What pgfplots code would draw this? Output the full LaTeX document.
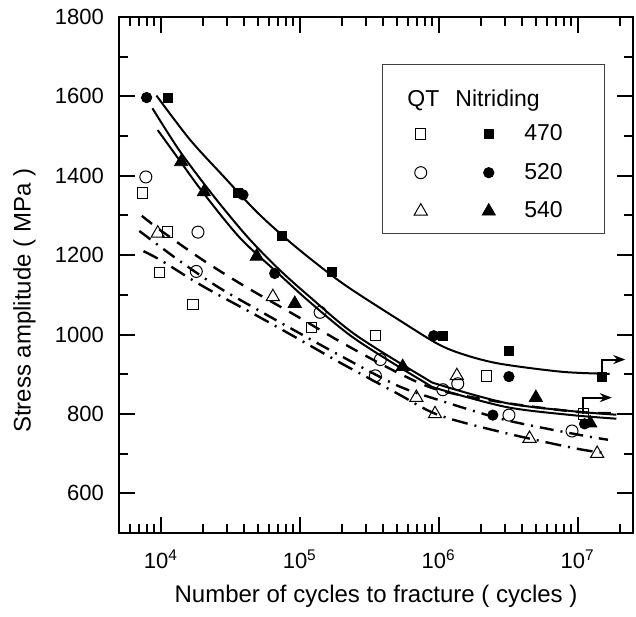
\documentclass[border=0pt]{standalone}
\usepackage{fontspec}
\setmainfont{Liberation Sans}
\usepackage{pgfplots}
\pgfplotsset{compat=1.18}
\usetikzlibrary{arrows.meta}

\begin{document}
\begin{tikzpicture}
\begin{axis}[
    scale only axis,
    width=257pt, height=258pt,
    xmode=log,
    xmin=5000, xmax=2.5e7,
    ymin=500, ymax=1800,
    axis line style={line width=1.2pt},
    every tick/.style={black, line width=1pt},
    tick align=inside,
    major tick length=8pt,
    minor tick length=4.5pt,
    xtick={1e4,1e5,1e6,1e7},
    xticklabels={10\textsuperscript{4},10\textsuperscript{5},10\textsuperscript{6},10\textsuperscript{7}},
    minor xtick={5000,6000,7000,8000,9000,2e4,3e4,4e4,5e4,6e4,7e4,8e4,9e4,2e5,3e5,4e5,5e5,6e5,7e5,8e5,9e5,2e6,3e6,4e6,5e6,6e6,7e6,8e6,9e6,2e7},
    ytick={600,800,...,1800},
    minor ytick={500,700,...,1700},
    /pgf/number format/assume math mode=true,
    /pgf/number format/1000 sep={},
    tick label style={font=\fontsize{11}{13}\selectfont},
    xticklabel style={yshift=-5pt},
    yticklabel style={xshift=-4pt},
    xlabel={Number of cycles to fracture ( cycles )},
    ylabel={Stress amplitude ( MPa )},
    label style={font=\fontsize{12}{14}\selectfont},
    xlabel style={at={(axis description cs:0.5,0)}, anchor=north, inner sep=0pt, yshift=-26pt},
    ylabel style={at={(axis description cs:0,0.45)}, anchor=south, inner sep=0pt, yshift=41.5pt},
    legend style={at={(rel axis cs:0.5735,0.80)}, anchor=north west, draw=none, fill=none,
        inner sep=0pt, row sep=5.75pt, font=\fontsize{11.5}{13}\selectfont},
    legend cell align=left,
    /tikz/every odd column/.append style={column sep=12.5pt},
]
% QT curves
\addplot[forget plot, smooth, line width=1.2pt, dash pattern=on 6.5pt off 4.5pt] coordinates {
(7.3e3,1299) (1e4,1262) (2e4,1188) (4e4,1122) (1e5,1042) (2e5,980) (5e5,905) (1e6,860) (3e6,828) (1e7,805) (1.9e7,802)};
\addplot[forget plot, smooth, line width=1.2pt, dash pattern=on 7pt off 3.5pt on 1pt off 3.5pt] coordinates {
(7e3,1261) (1.37e4,1185) (2.6e4,1119) (5e4,1062) (1e5,1003) (2e5,945) (5e5,872) (1e6,835) (3e6,785) (1e7,748) (1.65e7,735)};
\addplot[forget plot, smooth, line width=1.2pt, dash pattern=on 8pt off 3.5pt on 1pt off 3.5pt] coordinates {
(7.5e3,1210) (1e4,1187) (2e4,1122) (5e4,1046) (1e5,987) (2e5,927) (5e5,852) (1e6,797) (3e6,752) (1e7,712) (1.65e7,701)};
% nitriding curves
\addplot[forget plot, smooth, line width=1pt] coordinates {
(9.3e3,1602) (1.62e4,1491) (2.8e4,1400) (4.9e4,1309) (8.5e4,1233) (1.48e5,1165) (2.3e5,1116) (5e5,1040) (1e6,975) (1.6e6,947) (2.8e6,926) (7.8e6,906) (1.7e7,901)};
\addplot[forget plot, smooth, line width=1pt] coordinates {
(8.7e3,1570) (1.37e4,1462) (2.37e4,1351) (4.2e4,1246) (7e4,1166) (1.17e5,1096) (2.5e5,1000) (7.7e5,893) (1.02e6,873) (3.1e6,827) (9.1e6,807) (1.9e7,798)};
\addplot[forget plot, smooth, line width=1pt] coordinates {
(9.5e3,1515) (1.37e4,1438) (2e4,1359) (3.7e4,1244) (7e4,1154) (1.17e5,1083) (2.5e5,989) (7.7e5,882) (1.02e6,862) (3.1e6,817) (9.1e6,797) (1.9e7,788)};
% run-out arrows
\addplot[forget plot, line width=1pt, -{Stealth[length=6pt,width=4.5pt]}] coordinates {(1.5e7,894) (1.5e7,937) (2.2e7,937)};
\addplot[forget plot, line width=1pt, -{Stealth[length=6pt,width=4.5pt]}] coordinates {(1.1e7,800) (1.1e7,841) (1.76e7,841)};
% QT data
\addplot[forget plot, only marks, mark=square, mark size=2.6pt, mark options={line width=0.5pt, fill=white}] coordinates {
(7.4e3,1357) (1.12e4,1258) (9.8e3,1157) (1.7e4,1076) (1.22e5,1018) (3.5e5,997) (2.2e6,896) (1.1e7,800)};
\addplot[forget plot, only marks, mark=o, mark size=3pt, mark options={line width=0.5pt}] coordinates {
(7.8e3,1397) (1.85e4,1258) (1.8e4,1159) (1.4e5,1056) (3.8e5,937) (3.5e5,896) (1.07e6,861) (1.37e6,876) (3.2e6,797) (9.1e6,757)};
\addplot[forget plot, only marks, mark=triangle, mark size=3.8pt, mark options={line width=0.5pt}] coordinates {
(9.5e3,1255) (6.4e4,1095) (1.35e6,896) (6.9e5,841) (9.4e5,800) (4.5e6,738) (1.38e7,700)};
% nitriding data
\addplot[forget plot, only marks, mark=square*, mark size=2.3pt] coordinates {
(1.12e4,1597) (3.6e4,1357) (7.4e4,1248) (1.7e5,1157) (1.07e6,997) (3.2e6,959) (1.5e7,894)};
\addplot[forget plot, only marks, mark=*, mark size=2.6pt] coordinates {
(7.9e3,1597) (3.9e4,1352) (6.6e4,1154) (9.2e5,997) (3.2e6,894) (2.45e6,797) (1.12e7,775)};
\addplot[forget plot, only marks, mark=triangle*, mark size=3.8pt] coordinates {
(1.4e4,1435) (2.04e4,1359) (4.9e4,1197) (9.2e4,1078) (5.5e5,919) (5.0e6,841) (1.23e7,777)};
% legend
\addlegendimage{legend image code/.code={
  \draw[mark=square, mark size=2.6pt, mark options={line width=0.5pt}] plot coordinates {(0pt,0pt)};
  \draw[mark=square*, mark size=2.3pt] plot coordinates {(34pt,0pt)};}}
\addlegendentry{470}
\addlegendimage{legend image code/.code={
  \draw[mark=o, mark size=3pt, mark options={line width=0.5pt}] plot coordinates {(0pt,0pt)};
  \draw[mark=*, mark size=2.6pt] plot coordinates {(34pt,0pt)};}}
\addlegendentry{520}
\addlegendimage{legend image code/.code={
  \draw[mark=triangle, mark size=3.8pt, mark options={line width=0.5pt}] plot coordinates {(0pt,0pt)};
  \draw[mark=triangle*, mark size=3.8pt] plot coordinates {(34pt,0pt)};}}
\addlegendentry{540}
\draw[black!75, line width=0.5pt] (rel axis cs:0.5136,0.907) rectangle (rel axis cs:0.9455,0.5795);
\node[anchor=base west, inner sep=0pt, font=\fontsize{11.5}{13}\selectfont] at (rel axis cs:0.5603,0.8256) {QT};
\node[anchor=base west, inner sep=0pt, font=\fontsize{11.5}{13}\selectfont] at (rel axis cs:0.6537,0.8256) {Nitriding};
\end{axis}
\pgfresetboundingbox
\path ([shift={(-59.5pt,-41.5pt)}]current axis.south west) rectangle ([shift={(1.5pt,8.5pt)}]current axis.north east);
\end{tikzpicture}
\end{document}
